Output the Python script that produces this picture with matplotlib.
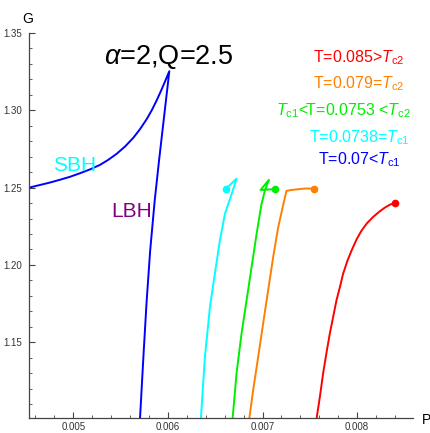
import numpy as np
import matplotlib
matplotlib.use('Agg')
import matplotlib.pyplot as plt
from matplotlib.ticker import MultipleLocator, FormatStrFormatter

plt.rcParams['font.family'] = ['Liberation Sans', 'DejaVu Sans']
plt.rcParams['mathtext.fontset'] = 'custom'
plt.rcParams['mathtext.rm'] = 'Liberation Sans'
plt.rcParams['mathtext.it'] = 'Liberation Sans:italic'

# data (P, G)
# T=0.07: small black hole branch up to the cusp, then the large black hole branch
p_blue = [0.004532, 0.004648, 0.004754, 0.004860, 0.004965, 0.005071, 0.005177, 0.005282,
          0.005370, 0.005459, 0.005547, 0.005634, 0.005705, 0.005776, 0.005829, 0.005882,
          0.005927, 0.005969, 0.006015,
          0.005967, 0.005906, 0.005860, 0.005812, 0.005775, 0.005744, 0.005704]
g_blue = [1.2500, 1.2517, 1.2533, 1.2551, 1.2570, 1.2593, 1.2618, 1.2647,
          1.2680, 1.2719, 1.2766, 1.2822, 1.2878, 1.2943, 1.3000, 1.3065,
          1.3126, 1.3186, 1.3253,
          1.2999, 1.2674, 1.2414, 1.2089, 1.1764, 1.1439, 1.0995]

p_cyan = [0.006609, 0.006725, 0.006679, 0.006602, 0.006549, 0.006496, 0.006444, 0.006391, 0.006348]
g_cyan = [1.2490, 1.2558, 1.2468, 1.2329, 1.2157, 1.1942, 1.1727, 1.1405, 1.1002]

p_green = [0.00713, 0.006979, 0.007067, 0.007024, 0.006989, 0.006937, 0.006884,
           0.006831, 0.006778, 0.006725, 0.006683]
g_green = [1.2490, 1.2485, 1.2550, 1.2479, 1.2393, 1.2200, 1.1985,
           1.1770, 1.1556, 1.1298, 1.1002]

p_orange = [0.007545, 0.007447, 0.007306, 0.007253, 0.007218, 0.007165, 0.007112,
            0.007059, 0.007006, 0.006954, 0.006901, 0.006859]
g_orange = [1.2494, 1.2494, 1.2485, 1.2479, 1.2387, 1.2242, 1.2049,
            1.1835, 1.1620, 1.1405, 1.1191, 1.1002]

p_red = [0.008397, 0.008347, 0.008291, 0.008231, 0.008168, 0.008104, 0.008045, 0.007993,
         0.00794, 0.007896, 0.007851, 0.007819, 0.007781, 0.007748, 0.007711, 0.007677,
         0.00764, 0.007607, 0.00757]
g_red = [1.2400, 1.2390, 1.2370, 1.2343, 1.2310, 1.2270, 1.2221, 1.2164,
         1.2092, 1.2025, 1.1942, 1.1860, 1.1770, 1.1669, 1.1556, 1.1436,
         1.1298, 1.1151, 1.1002]

c_red = '#ff0000'
c_orange = '#ff8000'
c_green = '#00ee00'
c_cyan = '#00ffff'
c_blue = '#0000ff'
c_purple = '#800080'

fig = plt.figure(figsize=(4.31, 4.33), dpi=100)
ax = fig.add_axes([0.0673, 0.0346, 0.8909, 0.8892])

lw = 1.4
ax.plot(p_blue, g_blue, color=c_blue, lw=lw)
ax.plot(p_cyan, g_cyan, color=c_cyan, lw=lw)
ax.plot(p_green, g_green, color=c_green, lw=lw)
ax.plot(p_orange, g_orange, color=c_orange, lw=lw)
ax.plot(p_red, g_red, color=c_red, lw=lw)

# end points
ax.plot(p_cyan[0], g_cyan[0], 'o', color=c_cyan, ms=4.5)
ax.plot(p_green[0], g_green[0], 'o', color=c_green, ms=4.5)
ax.plot(p_orange[0], g_orange[0], 'o', color=c_orange, ms=4.5)
ax.plot(p_red[0], g_red[0], 'o', color=c_red, ms=4.5)

ax.set_xlim(0.004532, 0.00859)
ax.set_ylim(1.101, 1.35)

for s in ['top', 'right']:
    ax.spines[s].set_visible(False)
for s in ['left', 'bottom']:
    ax.spines[s].set_color('#444444')
    ax.spines[s].set_linewidth(0.9)

ax.xaxis.set_major_locator(MultipleLocator(0.001))
ax.xaxis.set_minor_locator(MultipleLocator(0.0002))
ax.yaxis.set_major_locator(MultipleLocator(0.05))
ax.yaxis.set_minor_locator(MultipleLocator(0.01))
ax.xaxis.set_major_formatter(FormatStrFormatter('%.3f'))
ax.yaxis.set_major_formatter(FormatStrFormatter('%.2f'))
ax.tick_params(which='both', direction='in', color='#444444', labelsize=7, labelcolor='#333333')
ax.tick_params(which='major', length=4, width=0.8)
ax.tick_params(axis='x', which='major', pad=3)
ax.tick_params(axis='y', which='major', pad=5)
ax.tick_params(which='minor', length=2.5, width=0.6)

ax.text(-0.003, 1.036, 'G', transform=ax.transAxes, fontsize=10, ha='center', va='center')
ax.text(1.034, -0.005, 'P', transform=ax.transAxes, fontsize=10, ha='center', va='center')

ax.text(0.006011, 1.3347, r'$\alpha$=2,Q=2.5', fontsize=19.5, ha='center', va='center')

ax.text(0.005018, 1.2646, 'SBH', color=c_cyan, fontsize=15, ha='center', va='center')
ax.text(0.00562, 1.2343, 'LBH', color=c_purple, fontsize=15, ha='center', va='center')

leg_x = [0.00802, 0.00802, 0.00785, 0.00802, 0.00802]
leg_g = [1.3340, 1.3170, 1.3001, 1.2825, 1.2680]
leg_txt = [r'T=0.085>$T_{\rm c2}$', r'T=0.079=$T_{\rm c2}$',
           r'$T_{\rm c1}$<T=0.0753 <$T_{\rm c2}$', r'T=0.0738=$T_{\rm c1}$',
           r'T=0.07<$T_{\rm c1}$']
leg_col = [c_red, c_orange, c_green, c_cyan, c_blue]
for x, g, t, c in zip(leg_x, leg_g, leg_txt, leg_col):
    ax.text(x, g, t, color=c, fontsize=11.5, ha='center', va='center')

fig.savefig('out.png', dpi=100)
